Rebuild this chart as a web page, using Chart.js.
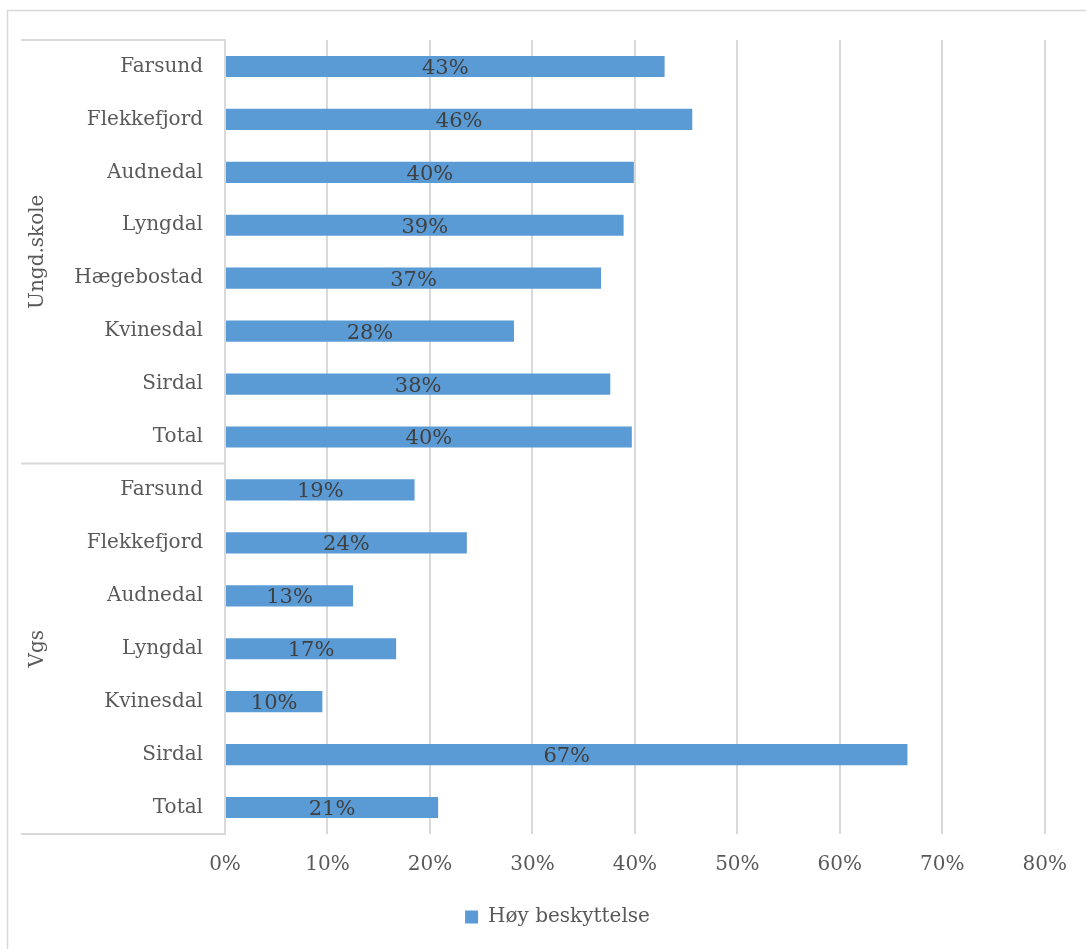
<!DOCTYPE html>
<html>
<head>
<meta charset="utf-8">
<script src="https://cdn.jsdelivr.net/npm/chart.js@4"></script>
<style>
  body { margin: 0; background: #fff; }
  canvas { display: block; }
</style>
</head>
<body>
<canvas id="bar-chart" width="1086" height="949"></canvas>
<script>
const categories = ["Farsund", "Flekkefjord", "Audnedal", "Lyngdal", "Hægebostad", "Kvinesdal", "Sirdal", "Total",
                    "Farsund", "Flekkefjord", "Audnedal", "Lyngdal", "Kvinesdal", "Sirdal", "Total"];
const groups = ["Ungd.skole", "Vgs"];
const groupSizes = [8, 7];
const values = [42.9, 45.6, 39.9, 38.9, 36.7, 28.2, 37.6, 39.7,
                18.5, 23.6, 12.5, 16.7, 9.5, 66.6, 20.8];
const seriesName = "Høy beskyttelse";
const xTicks = [0, 10, 20, 30, 40, 50, 60, 70, 80];

const font = "'DejaVu Serif', 'Liberation Serif', serif";
const gray = "#d9d9d9";
const textGray = "#595959";

const extras = {
    id: "extras",
    beforeDraw(chart) {
        const ctx = chart.ctx;
        ctx.save();
        ctx.strokeStyle = gray;
        ctx.lineWidth = 1.5;
        ctx.beginPath();
        ctx.moveTo(7, 10.5); ctx.lineTo(1086, 10.5);
        ctx.moveTo(7.5, 10); ctx.lineTo(7.5, 949);
        ctx.stroke();
        ctx.restore();
    },
    afterDraw(chart) {
        const ctx = chart.ctx;
        const area = chart.chartArea;
        const y = chart.scales.y;
        ctx.save();
        // group bracket lines
        let bounds = [area.top];
        let idx = 0;
        for (let g = 0; g < groupSizes.length; g++) {
            idx += groupSizes[g];
            if (idx < categories.length) {
                bounds.push((y.getPixelForValue(idx - 1) + y.getPixelForValue(idx)) / 2);
            }
        }
        bounds.push(area.bottom);
        ctx.strokeStyle = gray;
        ctx.lineWidth = 2;
        ctx.beginPath();
        bounds.forEach(b => { ctx.moveTo(21, b); ctx.lineTo(area.left, b); });
        ctx.stroke();
        // group labels
        ctx.fillStyle = textGray;
        ctx.font = "20px " + font;
        ctx.textAlign = "center";
        ctx.textBaseline = "middle";
        for (let g = 0; g < groups.length; g++) {
            const mid = (bounds[g] + bounds[g + 1]) / 2;
            ctx.save();
            ctx.translate(38, mid);
            ctx.rotate(-Math.PI / 2);
            ctx.fillText(groups[g], 0, 0);
            ctx.restore();
        }
        // value labels
        const meta = chart.getDatasetMeta(0);
        ctx.fillStyle = "#404040";
        ctx.font = "21px " + font;
        meta.data.forEach((bar, i) => {
            const cx = (bar.x + bar.base) / 2;
            ctx.fillText(Math.round(values[i]) + "%", cx, bar.y + 2);
        });
        ctx.restore();
    }
};

new Chart(document.getElementById("bar-chart"), {
    type: "bar",
    data: {
        labels: categories,
        datasets: [{
            label: seriesName,
            data: values,
            backgroundColor: "#5b9bd5",
            barPercentage: 0.4,
            categoryPercentage: 1.0
        }]
    },
    options: {
        indexAxis: "y",
        responsive: false,
        animation: false,
        layout: { padding: { left: 70, right: 41, top: 40, bottom: 12 } },
        scales: {
            x: {
                min: 0,
                max: 80,
                afterBuildTicks: (s) => { s.ticks = xTicks.map(v => ({ value: v })); },
                afterFit: (s) => { s.height = 63; },
                grid: { color: gray, lineWidth: 2, drawTicks: false },
                border: { display: false },
                ticks: {
                    padding: 19,
                    color: textGray,
                    font: { family: font, size: 20 },
                    callback: (v) => v + "%"
                }
            },
            y: {
                afterFit: (s) => { s.width = 155; },
                grid: { display: false, drawTicks: false },
                border: { display: true, color: gray, width: 2 },
                ticks: {
                    padding: 22,
                    color: textGray,
                    font: { family: font, size: 20 },
                    autoSkip: false
                }
            }
        },
        plugins: {
            legend: {
                position: "bottom",
                labels: {
                    boxWidth: 13,
                    boxHeight: 13,
                    color: textGray,
                    font: { family: font, size: 20 }
                }
            },
            tooltip: { enabled: false }
        }
    },
    plugins: [extras]
});
</script>
</body>
</html>
